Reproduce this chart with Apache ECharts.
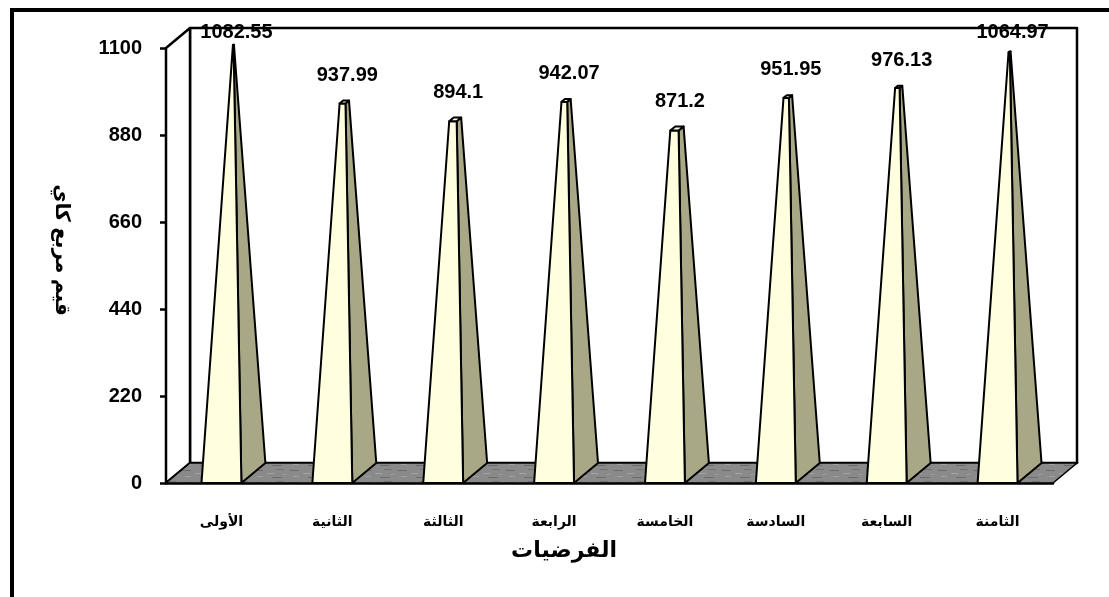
<!DOCTYPE html>
<html>
<head>
<meta charset="utf-8">
<script src="https://cdn.jsdelivr.net/npm/echarts@6/dist/echarts.min.js"></script>
<style>
  html, body { margin: 0; padding: 0; background: #ffffff; }
  #chart { width: 1109px; height: 597px; }
</style>
</head>
<body>
<div id="chart"></div>
<script>
// Hypotheses (categories) and their chi-square values
const categories = ['الأولى', 'الثانية', 'الثالثة', 'الرابعة', 'الخامسة', 'السادسة', 'السابعة', 'الثامنة'];
const chiValues = [1082.55, 937.99, 894.1, 942.07, 871.2, 951.95, 976.13, 1064.97];
const yMin = 0;
const yMax = 1100;
const yStep = 220;

const xTitle = 'الفرضيات';
const yTitle = 'قيم مربع كاي';

// depth of the pseudo-3D box (screen pixels)
const DEPTH_X = 24;
const DEPTH_Y = -20;
const FONT = 'Arial, "Liberation Sans", "DejaVu Sans", sans-serif';

const chart = echarts.init(document.getElementById('chart'));

// Grey stone texture for the floor
function floorPattern() {
  const c = document.createElement('canvas');
  c.width = 36; c.height = 12;
  const g = c.getContext('2d');
  g.fillStyle = '#8a8a8a';
  g.fillRect(0, 0, 36, 12);
  const streaks = [[2, 2, 9, '#6a6a6a'], [15, 5, 7, '#a6a6a6'], [24, 1, 8, '#727272'], [5, 8, 6, '#a0a0a0'], [20, 9, 10, '#6c6c6c'], [30, 6, 5, '#999']];
  streaks.forEach(function (s) {
    g.fillStyle = s[3];
    g.fillRect(s[0], s[1], s[2], 1);
  });
  return { image: c, repeat: 'repeat' };
}

// Walls and floor of the 3D box, drawn from the grid rectangle
function renderBox(params, api) {
  const cs = params.coordSys;
  const x = cs.x, y = cs.y, w = cs.width, h = cs.height;
  const stroke = { stroke: '#000', lineWidth: 2.5, lineJoin: 'round' };
  return {
    type: 'group',
    children: [
      {
        type: 'rect',
        shape: { x: x + DEPTH_X, y: y + DEPTH_Y, width: w, height: h },
        style: Object.assign({ fill: '#fff' }, stroke)
      },
      {
        type: 'polygon',
        shape: { points: [[x, y + h], [x, y], [x + DEPTH_X, y + DEPTH_Y], [x + DEPTH_X, y + h + DEPTH_Y]] },
        style: Object.assign({ fill: '#fff' }, stroke)
      },
      {
        type: 'polygon',
        shape: { points: [[x, y + h], [x + w, y + h], [x + w + DEPTH_X, y + h + DEPTH_Y], [x + DEPTH_X, y + h + DEPTH_Y]] },
        style: { fill: floorPattern(), stroke: '#000', lineWidth: 1.5 }
      }
    ]
  };
}

// Truncated pyramid for each hypothesis
function renderPyramid(params, api) {
  const i = api.value(0);
  const v = api.value(1);
  const base = api.coord([i, yMin]);
  const cut = api.coord([i, v]);
  const peak = api.coord([i, yMax]);
  const band = api.size([1, 0])[0];
  const halfW = band * 0.18;
  const cx = base[0];
  const s = (cut[1] - peak[1]) / (base[1] - peak[1]); // remaining width ratio at the cut
  function P(dx, sy, z) { return [cx + dx + z * DEPTH_X, sy + z * DEPTH_Y]; }
  const zf = 0.5 - s / 2, zb = 0.5 + s / 2;
  const tw = halfW * s;
  const line = { stroke: '#000', lineWidth: 2, lineJoin: 'round' };
  const front = [P(-halfW, base[1], 0), P(halfW, base[1], 0), P(tw, cut[1], zf), P(-tw, cut[1], zf)];
  const side = [P(halfW, base[1], 0), P(halfW, base[1], 1), P(tw, cut[1], zb), P(tw, cut[1], zf)];
  const topFace = [P(-tw, cut[1], zf), P(tw, cut[1], zf), P(tw, cut[1], zb), P(-tw, cut[1], zb)];
  const tip = P(0, cut[1], 0.5);
  const labelY = Math.max(tip[1] - 27, 32);
  return {
    type: 'group',
    children: [
      { type: 'polygon', shape: { points: side }, style: Object.assign({ fill: '#a8a887' }, line) },
      { type: 'polygon', shape: { points: front }, style: Object.assign({ fill: '#ffffe0' }, line) },
      { type: 'polygon', shape: { points: topFace }, style: Object.assign({ fill: '#ffffe6' }, line) },
      {
        type: 'text',
        style: {
          x: tip[0] + 3, y: labelY,
          text: String(v),
          textAlign: 'center', textVerticalAlign: 'middle',
          font: 'bold 20px ' + FONT, fill: '#000'
        }
      }
    ]
  };
}

const option = {
  animation: false,
  backgroundColor: '#fff',
  grid: { left: 166, right: 56, top: 48, bottom: 114 },
  xAxis: {
    type: 'category',
    data: categories,
    boundaryGap: true,
    axisLine: { lineStyle: { color: '#000', width: 2.5 } },
    axisTick: { length: 7, lineStyle: { color: '#000', width: 2.5 } },
    axisLabel: { margin: 32, color: '#000', fontWeight: 'bold', fontSize: 14, fontFamily: FONT },
    splitLine: { show: false }
  },
  yAxis: {
    type: 'value',
    min: yMin, max: yMax, interval: yStep,
    axisLine: { show: true, lineStyle: { color: '#000', width: 2.5 } },
    axisTick: { show: true, length: 6, lineStyle: { color: '#000', width: 2.5 } },
    axisLabel: {
      margin: 24, color: '#000', fontWeight: 'bold', fontSize: 20, fontFamily: FONT,
      formatter: function (v) { return String(v); }
    },
    splitLine: { show: false }
  },
  graphic: [
    {
      type: 'rect', z: 100,
      shape: { x: 12, y: 10, width: 1200, height: 700 },
      style: { fill: 'none', stroke: '#000', lineWidth: 4 }
    },
    {
      type: 'text', x: 564, y: 551,
      style: { text: xTitle, textAlign: 'center', textVerticalAlign: 'middle', font: 'bold 22px ' + FONT, fill: '#000' }
    },
    {
      type: 'text', x: 62, y: 250, rotation: -Math.PI / 2,
      style: { text: yTitle, textAlign: 'center', textVerticalAlign: 'middle', font: 'bold 20px ' + FONT, fill: '#000' }
    }
  ],
  series: [
    {
      type: 'custom', z: 1,
      renderItem: renderBox,
      data: [[0, 0]],
      silent: true
    },
    {
      type: 'custom', z: 3,
      renderItem: renderPyramid,
      encode: { x: 0, y: 1 },
      data: chiValues.map(function (v, i) { return [i, v]; })
    }
  ]
};

chart.setOption(option);
</script>
</body>
</html>
